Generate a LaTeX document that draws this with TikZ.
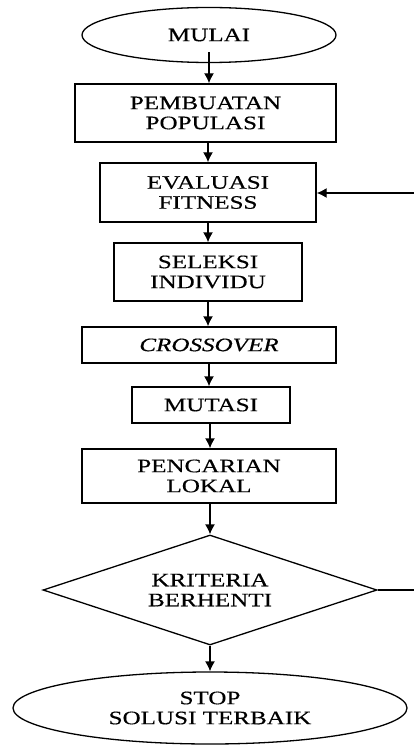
\documentclass[tikz,border=0pt]{standalone}
\usepackage{fontspec}
\setmainfont[FakeStretch=1.32,FakeBold=0.4]{Liberation Serif}
\usetikzlibrary{shapes.geometric,arrows.meta}
\begin{document}
\begin{tikzpicture}[x=1pt,y=-1pt,
  every node/.style={font=\fontsize{19}{20}\selectfont, align=center, inner sep=0pt},
  boxstyle/.style={draw, line width=1.4pt, rectangle},
  ovalstyle/.style={draw, line width=1.3pt, ellipse},
  decstyle/.style={draw, line width=1.3pt, diamond, shape aspect=3},
  arr/.style={line width=1.4pt, -{Latex[length=10pt,width=10pt]}}
]
\useasboundingbox (0,0) rectangle (414,746);
\clip (0,0) rectangle (414,746);

\node[ovalstyle, minimum width=254pt, minimum height=55pt] (mulai) at (209,35) {MULAI};
\node[boxstyle, minimum width=261pt, minimum height=58pt] (pemb) at (205.5,113) {PEMBUATAN\\POPULASI};
\node[boxstyle, minimum width=216pt, minimum height=59pt] (eval) at (208,192.5) {EVALUASI\\FITNESS};
\node[boxstyle, minimum width=188pt, minimum height=58pt] (sel) at (208,272) {SELEKSI\\INDIVIDU};
\node[boxstyle, minimum width=254pt, minimum height=36pt] (cross) at (209,345) {\itshape CROSSOVER};
\node[boxstyle, minimum width=158pt, minimum height=36pt] (mut) at (211,405) {MUTASI};
\node[boxstyle, minimum width=254pt, minimum height=54pt] (lok) at (209,476) {PENCARIAN\\LOKAL};
\node[decstyle, minimum width=334pt, minimum height=110pt] (krit) at (210,590) {KRITERIA\\BERHENTI};
\node[ovalstyle, minimum width=394pt, minimum height=72pt] (stop) at (210,708) {STOP\\SOLUSI TERBAIK};

\coordinate (loopa) at (422,590);
\coordinate (loopb) at (422,193);

\draw[arr] ([yshift=11pt]mulai.south) -- (mulai.south |- pemb.north);
\draw[arr] (208,142) -- (eval.north -| 208,0);
\draw[arr] (eval.south) -- (eval.south |- sel.north);
\draw[arr] (sel.south) -- (sel.south |- cross.north);
\draw[arr] (cross.south) -- (cross.south |- mut.north);
\draw[arr] (210,423) -- (lok.north -| 210,0);
\draw[arr] (210,503) -- (krit.north);
\draw[arr] (krit.south) -- (stop.north);
\draw[arr] (krit.east) -- (loopa) -- (loopb) -- (eval.east |- loopb);
\end{tikzpicture}
\end{document}
